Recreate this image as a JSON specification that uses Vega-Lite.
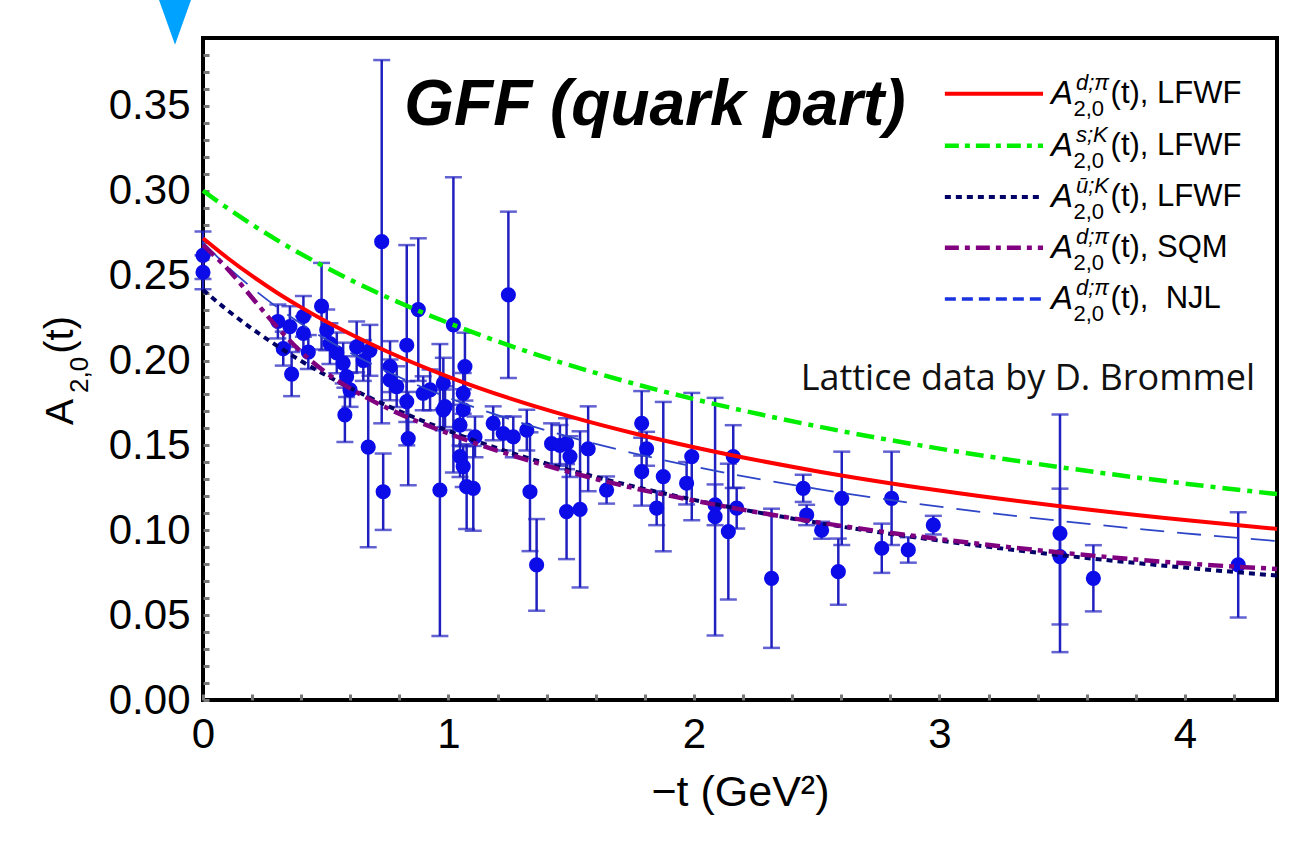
{
  "$schema": "https://vega.github.io/schema/vega-lite/v6.json",
  "width": 1074,
  "height": 662,
  "autosize": {"type": "none"},
  "padding": {"left": 203, "top": 38, "right": 22, "bottom": 150},
  "background": "white",
  "datasets": {
    "pts": [
      {"t":0,"A":0.262,"lo":0.248,"hi":0.276},{"t":0,"A":0.252,"lo":0.242,"hi":0.262},
      {"t":0.305,"A":0.223,"lo":0.213,"hi":0.233},{"t":0.327,"A":0.207,"lo":0.197,"hi":0.217},
      {"t":0.361,"A":0.192,"lo":0.179,"hi":0.205},{"t":0.354,"A":0.22,"lo":0.208,"hi":0.232},
      {"t":0.409,"A":0.226,"lo":0.214,"hi":0.238},{"t":0.409,"A":0.216,"lo":0.206,"hi":0.226},
      {"t":0.429,"A":0.205,"lo":0.195,"hi":0.215},{"t":0.483,"A":0.232,"lo":0.2065,"hi":0.2575},
      {"t":0.504,"A":0.218,"lo":0.206,"hi":0.23},{"t":0.517,"A":0.21,"lo":0.198,"hi":0.222},
      {"t":0.545,"A":0.2045,"lo":0.1925,"hi":0.2165},{"t":0.571,"A":0.1985,"lo":0.1865,"hi":0.2105},
      {"t":0.585,"A":0.1905,"lo":0.1785,"hi":0.2025},{"t":0.599,"A":0.1827,"lo":0.1727,"hi":0.1927},
      {"t":0.626,"A":0.208,"lo":0.193,"hi":0.223},{"t":0.653,"A":0.2,"lo":0.188,"hi":0.212},
      {"t":0.68,"A":0.206,"lo":0.191,"hi":0.221},{"t":0.578,"A":0.168,"lo":0.152,"hi":0.184},
      {"t":0.673,"A":0.149,"lo":0.09,"hi":0.208},{"t":0.734,"A":0.1227,"lo":0.1002,"hi":0.1452},
      {"t":0.728,"A":0.27,"lo":0.163,"hi":0.377},{"t":0.836,"A":0.154,"lo":0.1265,"hi":0.1815},
      {"t":0.965,"A":0.1237,"lo":0.0377,"hi":0.2097},{"t":0.83,"A":0.209,"lo":0.15,"hi":0.268},
      {"t":0.877,"A":0.23,"lo":0.188,"hi":0.272},{"t":0.762,"A":0.1964,"lo":0.1814,"hi":0.2114},
      {"t":0.762,"A":0.1886,"lo":0.1766,"hi":0.2006},{"t":0.789,"A":0.1846,"lo":0.1726,"hi":0.1966},
      {"t":0.83,"A":0.1758,"lo":0.1638,"hi":0.1878},{"t":0.897,"A":0.1807,"lo":0.1707,"hi":0.1907},
      {"t":0.925,"A":0.1827,"lo":0.1707,"hi":0.1947},{"t":0.979,"A":0.1866,"lo":0.1716,"hi":0.2016},
      {"t":0.979,"A":0.1709,"lo":0.1589,"hi":0.1829},{"t":1.02,"A":0.221,"lo":0.134,"hi":0.308},
      {"t":1.067,"A":0.1964,"lo":0.1764,"hi":0.2164},{"t":1.06,"A":0.1807,"lo":0.1687,"hi":0.1927},
      {"t":0.986,"A":0.1728,"lo":0.1608,"hi":0.1848},{"t":1.06,"A":0.171,"lo":0.159,"hi":0.183},
      {"t":1.047,"A":0.162,"lo":0.15,"hi":0.174},{"t":1.108,"A":0.155,"lo":0.143,"hi":0.167},
      {"t":1.047,"A":0.1434,"lo":0.1314,"hi":0.1554},{"t":1.06,"A":0.1375,"lo":0.1255,"hi":0.1495},
      {"t":1.101,"A":0.1247,"lo":0.0997,"hi":0.1497},{"t":1.074,"A":0.1257,"lo":0.1007,"hi":0.1507},
      {"t":1.182,"A":0.163,"lo":0.153,"hi":0.173},{"t":1.223,"A":0.157,"lo":0.147,"hi":0.167},
      {"t":1.244,"A":0.2387,"lo":0.1897,"hi":0.2877},{"t":1.264,"A":0.155,"lo":0.143,"hi":0.167},
      {"t":1.319,"A":0.159,"lo":0.147,"hi":0.171},{"t":1.332,"A":0.1227,"lo":0.0877,"hi":0.1577},
      {"t":1.359,"A":0.0796,"lo":0.0526,"hi":0.1066},{"t":1.42,"A":0.151,"lo":0.139,"hi":0.163},
      {"t":1.454,"A":0.15,"lo":0.138,"hi":0.162},{"t":1.481,"A":0.151,"lo":0.136,"hi":0.166},
      {"t":1.495,"A":0.1434,"lo":0.1314,"hi":0.1554},{"t":1.481,"A":0.111,"lo":0.083,"hi":0.139},
      {"t":1.536,"A":0.1123,"lo":0.0663,"hi":0.1583},{"t":1.569,"A":0.148,"lo":0.123,"hi":0.173},
      {"t":1.644,"A":0.1237,"lo":0.1157,"hi":0.1317},{"t":1.787,"A":0.163,"lo":0.144,"hi":0.182},
      {"t":1.807,"A":0.148,"lo":0.138,"hi":0.158},{"t":1.787,"A":0.1345,"lo":0.1145,"hi":0.1545},
      {"t":1.848,"A":0.113,"lo":0.103,"hi":0.123},{"t":1.875,"A":0.1316,"lo":0.0876,"hi":0.1756},
      {"t":1.991,"A":0.1434,"lo":0.1059,"hi":0.1809},{"t":1.97,"A":0.1277,"lo":0.1152,"hi":0.1402},
      {"t":2.086,"A":0.115,"lo":0.103,"hi":0.127},{"t":2.086,"A":0.108,"lo":0.038,"hi":0.178},
      {"t":2.14,"A":0.0992,"lo":0.0592,"hi":0.1392},{"t":2.16,"A":0.1434,"lo":0.1249,"hi":0.1619},
      {"t":2.174,"A":0.113,"lo":0.101,"hi":0.125},{"t":2.316,"A":0.0717,"lo":0.0307,"hi":0.1127},
      {"t":2.445,"A":0.1247,"lo":0.1167,"hi":0.1327},{"t":2.459,"A":0.109,"lo":0.103,"hi":0.115},
      {"t":2.52,"A":0.1,"lo":0.095,"hi":0.105},{"t":2.602,"A":0.1188,"lo":0.0913,"hi":0.1463},
      {"t":2.588,"A":0.0756,"lo":0.0561,"hi":0.0951},{"t":2.765,"A":0.0894,"lo":0.0749,"hi":0.1039},
      {"t":2.805,"A":0.1188,"lo":0.0913,"hi":0.1463},{"t":2.873,"A":0.0884,"lo":0.0809,"hi":0.0959},
      {"t":2.975,"A":0.103,"lo":0.0975,"hi":0.1085},{"t":3.491,"A":0.0982,"lo":0.0282,"hi":0.1682},
      {"t":3.491,"A":0.0845,"lo":0.0445,"hi":0.1245},{"t":3.627,"A":0.0717,"lo":0.0522,"hi":0.0912},
      {"t":4.217,"A":0.0796,"lo":0.0486,"hi":0.1106}
    ],
    "red": [
      {"t":0,"A":0.272},{"t":0.1,"A":0.2604},{"t":0.2,"A":0.2498},{"t":0.3,"A":0.2401},{"t":0.4,"A":0.2313},
      {"t":0.5,"A":0.2231},{"t":0.6,"A":0.2156},{"t":0.75,"A":0.2053},{"t":1,"A":0.1904},{"t":1.25,"A":0.1777},
      {"t":1.5,"A":0.1668},{"t":1.75,"A":0.1573},{"t":2,"A":0.1489},{"t":2.5,"A":0.1348},{"t":3,"A":0.1234},
      {"t":3.5,"A":0.114},{"t":4,"A":0.106},{"t":4.375,"A":0.1008}
    ],
    "green": [
      {"t":0,"A":0.3},{"t":0.1,"A":0.2897},{"t":0.2,"A":0.2801},{"t":0.3,"A":0.2711},{"t":0.5,"A":0.2549},
      {"t":0.75,"A":0.2373},{"t":1,"A":0.2221},{"t":1.25,"A":0.2088},{"t":1.5,"A":0.197},{"t":1.75,"A":0.1866},
      {"t":2,"A":0.1773},{"t":2.5,"A":0.1613},{"t":3,"A":0.1481},{"t":3.5,"A":0.137},{"t":4,"A":0.1275},
      {"t":4.375,"A":0.1213}
    ],
    "navy": [
      {"t":0,"A":0.2416},{"t":0.1,"A":0.2296},{"t":0.2,"A":0.2187},{"t":0.3,"A":0.2088},{"t":0.4,"A":0.1997},
      {"t":0.5,"A":0.1914},{"t":0.6,"A":0.1838},{"t":0.75,"A":0.1734},{"t":1,"A":0.1585},{"t":1.25,"A":0.1459},
      {"t":1.5,"A":0.1352},{"t":1.75,"A":0.126},{"t":2,"A":0.1179},{"t":2.5,"A":0.1045},{"t":3,"A":0.0939},
      {"t":3.5,"A":0.0852},{"t":4,"A":0.078},{"t":4.375,"A":0.0733}
    ],
    "purple": [
      {"t":0,"A":0.268},{"t":0.1,"A":0.254},{"t":0.2,"A":0.237},{"t":0.3,"A":0.22},{"t":0.4,"A":0.205},
      {"t":0.5,"A":0.193},{"t":0.6,"A":0.1835},{"t":0.75,"A":0.172},{"t":1,"A":0.157},{"t":1.25,"A":0.1445},
      {"t":1.5,"A":0.134},{"t":1.75,"A":0.125},{"t":2,"A":0.1175},{"t":2.5,"A":0.1048},{"t":3,"A":0.0948},
      {"t":3.5,"A":0.0868},{"t":4,"A":0.0805},{"t":4.375,"A":0.0772}
    ],
    "njl": [
      {"t":0,"A":0.2696},{"t":0.1,"A":0.2553},{"t":0.2,"A":0.2428},{"t":0.3,"A":0.2316},{"t":0.4,"A":0.2216},
      {"t":0.5,"A":0.2126},{"t":0.6,"A":0.2045},{"t":0.75,"A":0.1935},{"t":1,"A":0.1781},{"t":1.25,"A":0.1654},
      {"t":1.5,"A":0.1547},{"t":1.75,"A":0.1455},{"t":2,"A":0.1375},{"t":2.5,"A":0.1244},{"t":3,"A":0.1139},
      {"t":3.5,"A":0.1054},{"t":4,"A":0.0982},{"t":4.375,"A":0.0936}
    ],
    "legline": [
      {"m":"red","t":3.022,"A":0.3571},{"m":"red","t":3.422,"A":0.3571},
      {"m":"green","t":3.022,"A":0.3265},{"m":"green","t":3.422,"A":0.3265},
      {"m":"navy","t":3.022,"A":0.2964},{"m":"navy","t":3.422,"A":0.2964},
      {"m":"purple","t":3.022,"A":0.2664},{"m":"purple","t":3.422,"A":0.2664},
      {"m":"njl","t":3.022,"A":0.2363},{"m":"njl","t":3.422,"A":0.2363}
    ],
    "legtxt": [
      {"A":0.3571,"xa":3.454,"xs":3.556,"xb":3.546,"xr":3.697,"sup":"d;π","rest":"(t), LFWF"},
      {"A":0.3265,"xa":3.454,"xs":3.556,"xb":3.546,"xr":3.697,"sup":"s;K","rest":"(t), LFWF"},
      {"A":0.2964,"xa":3.454,"xs":3.556,"xb":3.546,"xr":3.697,"sup":"ū;K","rest":"(t), LFWF"},
      {"A":0.2664,"xa":3.454,"xs":3.556,"xb":3.546,"xr":3.697,"sup":"d;π","rest":"(t), SQM"},
      {"A":0.2363,"xa":3.454,"xs":3.556,"xb":3.546,"xr":3.697,"sup":"d;π","rest":"(t),\u00a0 NJL"}
    ]
  },
  "encoding": {
    "x": {
      "field": "t", "type": "quantitative",
      "scale": {"domain": [0, 4.375], "nice": false, "zero": false},
      "axis": {
        "title": "−t (GeV²)",
        "values": [0,0.2,0.4,0.6,0.8,1,1.2,1.4,1.6,1.8,2,2.2,2.4,2.6,2.8,3,3.2,3.4,3.6,3.8,4,4.2],
        "labelExpr": "abs(datum.value - round(datum.value)) < 0.001 ? format(datum.value, 'd') : ''",
        "domain": false, "grid": false,
        "ticks": true, "tickSize": -6, "tickColor": "#777777", "tickWidth": 3,
        "labelFont": "Liberation Sans", "labelFontSize": 42, "labelColor": "black",
        "labelPadding": 20, "labelFlush": false, "labelOverlap": false,
        "titleFont": "Liberation Sans", "titleFontSize": 43, "titleFontWeight": "normal",
        "titleColor": "black", "titlePadding": 16
      }
    },
    "y": {
      "field": "A", "type": "quantitative",
      "scale": {"domain": [0, 0.39], "nice": false, "zero": false},
      "axis": {
        "title": null,
        "values": [0,0.01,0.02,0.03,0.04,0.05,0.06,0.07,0.08,0.09,0.1,0.11,0.12,0.13,0.14,0.15,0.16,0.17,0.18,0.19,0.2,0.21,0.22,0.23,0.24,0.25,0.26,0.27,0.28,0.29,0.3,0.31,0.32,0.33,0.34,0.35,0.36,0.37,0.38],
        "labelExpr": "abs(datum.value*20 - round(datum.value*20)) < 0.001 ? format(datum.value, '.2f') : ''",
        "domain": false, "grid": false,
        "ticks": true, "tickSize": -6, "tickColor": "#777777", "tickWidth": 3,
        "labelFont": "Liberation Sans", "labelFontSize": 42, "labelColor": "black",
        "labelPadding": 19, "labelFlush": false, "labelOverlap": false
      }
    }
  },
  "layer": [
    {
      "data": {"name": "pts"},
      "mark": {"type": "rule", "color": "#2020c0", "strokeWidth": 2.5},
      "encoding": {"y": {"field": "lo", "type": "quantitative"}, "y2": {"field": "hi"}}
    },
    {
      "data": {"name": "pts"},
      "mark": {"type": "tick", "orient": "horizontal", "color": "#2020c0", "size": 17, "thickness": 2.5},
      "encoding": {"y": {"field": "lo", "type": "quantitative"}}
    },
    {
      "data": {"name": "pts"},
      "mark": {"type": "tick", "orient": "horizontal", "color": "#2020c0", "size": 17, "thickness": 2.5},
      "encoding": {"y": {"field": "hi", "type": "quantitative"}}
    },
    {
      "data": {"name": "pts"},
      "mark": {"type": "circle", "size": 230, "color": "#0c0ce8", "opacity": 1}
    },
    {
      "data": {"name": "njl"},
      "mark": {"type": "line", "color": "#2f45c8", "strokeWidth": 1.8, "strokeDash": [24, 13], "interpolate": "monotone"}
    },
    {
      "data": {"name": "navy"},
      "mark": {"type": "line", "color": "#000066", "strokeWidth": 4, "strokeDash": [6, 5], "interpolate": "monotone"}
    },
    {
      "data": {"name": "purple"},
      "mark": {"type": "line", "color": "#800080", "strokeWidth": 4.5, "strokeDash": [15, 6, 5, 6], "interpolate": "monotone"}
    },
    {
      "data": {"name": "green"},
      "mark": {"type": "line", "color": "#00ee00", "strokeWidth": 4.5, "strokeDash": [18, 7, 5, 7], "interpolate": "monotone"}
    },
    {
      "data": {"name": "red"},
      "mark": {"type": "line", "color": "#ff0000", "strokeWidth": 4, "interpolate": "monotone"}
    },
    {
      "data": {"name": "legline"},
      "transform": [{"filter": "datum.m == 'red'"}],
      "mark": {"type": "line", "color": "#ff0000", "strokeWidth": 4}
    },
    {
      "data": {"name": "legline"},
      "transform": [{"filter": "datum.m == 'green'"}],
      "mark": {"type": "line", "color": "#00ee00", "strokeWidth": 4.5, "strokeDash": [14, 6, 5, 6]}
    },
    {
      "data": {"name": "legline"},
      "transform": [{"filter": "datum.m == 'navy'"}],
      "mark": {"type": "line", "color": "#000066", "strokeWidth": 4, "strokeDash": [6, 5]}
    },
    {
      "data": {"name": "legline"},
      "transform": [{"filter": "datum.m == 'purple'"}],
      "mark": {"type": "line", "color": "#800080", "strokeWidth": 4.5, "strokeDash": [14, 6, 5, 6]}
    },
    {
      "data": {"name": "legline"},
      "transform": [{"filter": "datum.m == 'njl'"}],
      "mark": {"type": "line", "color": "#1a33e0", "strokeWidth": 3.5, "strokeDash": [11, 6]}
    },
    {
      "data": {"name": "legtxt"},
      "mark": {"type": "text", "text": "A", "font": "Liberation Sans", "fontSize": 33, "fontStyle": "italic", "align": "left", "baseline": "middle", "color": "black"},
      "encoding": {"x": {"field": "xa", "type": "quantitative"}}
    },
    {
      "data": {"name": "legtxt"},
      "mark": {"type": "text", "font": "Liberation Sans", "fontSize": 22, "fontStyle": "italic", "align": "left", "baseline": "middle", "dy": -11, "color": "black"},
      "encoding": {"x": {"field": "xs", "type": "quantitative"}, "text": {"field": "sup"}}
    },
    {
      "data": {"name": "legtxt"},
      "mark": {"type": "text", "text": "2,0", "font": "Liberation Sans", "fontSize": 22, "align": "left", "baseline": "middle", "dy": 15, "color": "black"},
      "encoding": {"x": {"field": "xb", "type": "quantitative"}}
    },
    {
      "data": {"name": "legtxt"},
      "mark": {"type": "text", "font": "Liberation Sans", "fontSize": 31, "align": "left", "baseline": "middle", "color": "black"},
      "encoding": {"x": {"field": "xr", "type": "quantitative"}, "text": {"field": "rest"}}
    },
    {
      "data": {"values": [{"t": 1.841, "A": 0.3388, "label": "GFF (quark part)"}]},
      "mark": {"type": "text", "font": "Liberation Sans", "fontSize": 64, "fontWeight": "bold", "fontStyle": "italic", "align": "center", "baseline": "alphabetic", "color": "black"},
      "encoding": {"text": {"field": "label"}}
    },
    {
      "data": {"values": [{"t": 4.286, "A": 0.1827, "label": "Lattice data by D. Brommel"}]},
      "mark": {"type": "text", "font": "Open Sans", "fontSize": 36, "align": "right", "baseline": "alphabetic", "color": "#111111"},
      "encoding": {"text": {"field": "label"}}
    },
    {
      "data": {"values": [{"t": -0.5295, "A": 0.1697, "label": "A"}]},
      "mark": {"type": "text", "font": "Liberation Sans", "fontSize": 39, "angle": 270, "align": "center", "baseline": "alphabetic", "color": "black"},
      "encoding": {"text": {"field": "label"}}
    },
    {
      "data": {"values": [{"t": -0.4684, "A": 0.1915, "label": "2,0"}]},
      "mark": {"type": "text", "font": "Liberation Sans", "fontSize": 26, "angle": 270, "align": "center", "baseline": "alphabetic", "color": "black"},
      "encoding": {"text": {"field": "label"}}
    },
    {
      "data": {"values": [{"t": -0.5295, "A": 0.2151, "label": "(t)"}]},
      "mark": {"type": "text", "font": "Liberation Sans", "fontSize": 40, "angle": 270, "align": "center", "baseline": "alphabetic", "color": "black"},
      "encoding": {"text": {"field": "label"}}
    },
    {
      "data": {"values": [{"t": -0.114, "A": 0.3966, "label": "marker"}]},
      "mark": {"type": "point", "shape": "M-1,-1.8L1,-1.8L0,1Z", "size": 1296, "filled": true, "color": "#00a2ff", "opacity": 1}
    }
  ],
  "config": {
    "view": {"stroke": "black", "strokeWidth": 4},
    "font": "Liberation Sans"
  }
}
